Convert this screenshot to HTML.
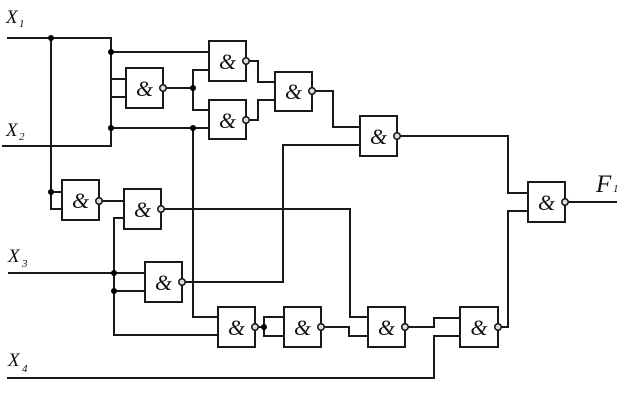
<!DOCTYPE html>
<html><head><meta charset="utf-8"><style>
html,body{margin:0;padding:0;background:#fff;}
svg{display:block;}
.w{stroke:#1a1a1a;stroke-width:2;fill:none;}
.g{stroke:#1a1a1a;stroke-width:2;fill:#fff;}
.b{stroke:#1a1a1a;stroke-width:1.6;fill:#ddd;}
.d{fill:#000;}
.amp{font-family:"Liberation Serif",serif;font-style:italic;font-size:22px;fill:#111;text-anchor:middle;}
.lbl{font-family:"Liberation Serif",serif;font-style:italic;fill:#111;}
</style></head><body>
<svg width="624" height="401" viewBox="0 0 624 401" xmlns="http://www.w3.org/2000/svg">
<!-- wires -->
<polyline class="w" points="7,38 111,38 111,146 2,146"/>
<polyline class="w" points="51,38 51,209 62,209"/>
<line class="w" x1="51" y1="192" x2="62" y2="192"/>
<line class="w" x1="111" y1="52" x2="209" y2="52"/>
<line class="w" x1="111" y1="128" x2="209" y2="128"/>
<line class="w" x1="111" y1="79" x2="126" y2="79"/>
<line class="w" x1="111" y1="97" x2="126" y2="97"/>
<line class="w" x1="163" y1="88" x2="193" y2="88"/>
<polyline class="w" points="209,70 193,70 193,110 209,110"/>
<polyline class="w" points="193,128 193,317 218,317"/>
<polyline class="w" points="246,61 258,61 258,82 275,82"/>
<polyline class="w" points="246,120 258,120 258,100 275,100"/>
<polyline class="w" points="312,91 333,91 333,127 360,127"/>
<polyline class="w" points="360,145 283,145 283,282 182,282"/>
<polyline class="w" points="397,136 508,136 508,193 528,193"/>
<polyline class="w" points="528,211 508,211 508,327 498,327"/>
<line class="w" x1="565" y1="202" x2="617" y2="202"/>
<line class="w" x1="99" y1="201" x2="124" y2="201"/>
<polyline class="w" points="124,218 114,218 114,335 218,335"/>
<line class="w" x1="8" y1="273" x2="145" y2="273"/>
<line class="w" x1="114" y1="291" x2="145" y2="291"/>
<polyline class="w" points="161,209 350,209 350,317 368,317"/>
<line class="w" x1="255" y1="327" x2="264" y2="327"/>
<polyline class="w" points="284,317 264,317 264,336 284,336"/>
<polyline class="w" points="321,327 349,327 349,336 368,336"/>
<polyline class="w" points="405,327 434,327 434,318 460,318"/>
<polyline class="w" points="7,378 434,378 434,336 460,336"/>
<!-- junction dots -->
<circle class="d" cx="51" cy="38" r="3"/>
<circle class="d" cx="111" cy="52" r="3"/>
<circle class="d" cx="111" cy="128" r="3"/>
<circle class="d" cx="193" cy="88" r="3"/>
<circle class="d" cx="193" cy="128" r="3"/>
<circle class="d" cx="51" cy="192" r="3"/>
<circle class="d" cx="114" cy="273" r="3"/>
<circle class="d" cx="114" cy="291" r="3"/>
<circle class="d" cx="264" cy="327" r="3"/>
<!-- gates -->
<g>
<rect class="g" x="126" y="68" width="37" height="40"/><circle class="b" cx="163" cy="88" r="3.2"/><text class="amp" x="144.5" y="96">&amp;</text>
<rect class="g" x="209" y="41" width="37" height="40"/><circle class="b" cx="246" cy="61" r="3.2"/><text class="amp" x="227.5" y="69">&amp;</text>
<rect class="g" x="209" y="100" width="37" height="39"/><circle class="b" cx="246" cy="120" r="3.2"/><text class="amp" x="227.5" y="128">&amp;</text>
<rect class="g" x="275" y="72" width="37" height="39"/><circle class="b" cx="312" cy="91" r="3.2"/><text class="amp" x="293.5" y="99">&amp;</text>
<rect class="g" x="360" y="116" width="37" height="40"/><circle class="b" cx="397" cy="136" r="3.2"/><text class="amp" x="378.5" y="144">&amp;</text>
<rect class="g" x="528" y="182" width="37" height="40"/><circle class="b" cx="565" cy="202" r="3.2"/><text class="amp" x="546.5" y="210">&amp;</text>
<rect class="g" x="62" y="180" width="37" height="40"/><circle class="b" cx="99" cy="201" r="3.2"/><text class="amp" x="80.5" y="208">&amp;</text>
<rect class="g" x="124" y="189" width="37" height="40"/><circle class="b" cx="161" cy="209" r="3.2"/><text class="amp" x="142.5" y="217">&amp;</text>
<rect class="g" x="145" y="262" width="37" height="40"/><circle class="b" cx="182" cy="282" r="3.2"/><text class="amp" x="163.5" y="290">&amp;</text>
<rect class="g" x="218" y="307" width="37" height="40"/><circle class="b" cx="255" cy="327" r="3.2"/><text class="amp" x="236.5" y="335">&amp;</text>
<rect class="g" x="284" y="307" width="37" height="40"/><circle class="b" cx="321" cy="327" r="3.2"/><text class="amp" x="302.5" y="335">&amp;</text>
<rect class="g" x="368" y="307" width="37" height="40"/><circle class="b" cx="405" cy="327" r="3.2"/><text class="amp" x="386.5" y="335">&amp;</text>
<rect class="g" x="460" y="307" width="38" height="40"/><circle class="b" cx="498" cy="327" r="3.2"/><text class="amp" x="479" y="335">&amp;</text>
</g>
<!-- labels -->
<text class="lbl" x="6" y="23" font-size="19">X</text><text class="lbl" x="19" y="27" font-size="11">1</text>
<text class="lbl" x="6" y="136" font-size="19">X</text><text class="lbl" x="19" y="140" font-size="11">2</text>
<text class="lbl" x="8" y="262" font-size="19">X</text><text class="lbl" x="22" y="267" font-size="11">3</text>
<text class="lbl" x="8" y="366" font-size="19">X</text><text class="lbl" x="22" y="372" font-size="11">4</text>
<text class="lbl" x="596" y="192" font-size="25">F</text><text class="lbl" x="613" y="192" font-size="11">1</text>
</svg>
</body></html>
